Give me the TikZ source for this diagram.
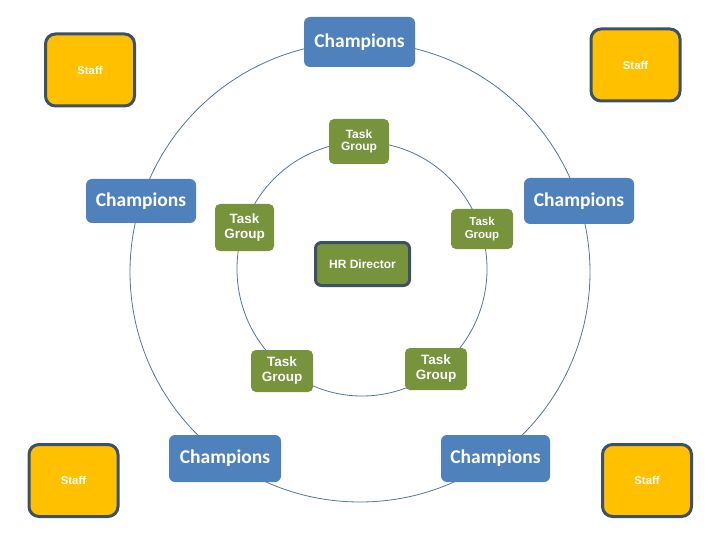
\documentclass[tikz,border=0pt]{standalone}
\usepackage{fontspec}
\setmainfont{Liberation Sans}
\newfontfamily\calfont{Carlito}
\definecolor{champblue}{RGB}{79,129,189}
\definecolor{tggreen}{RGB}{119,147,60}
\definecolor{staffgold}{RGB}{255,192,0}
\definecolor{edgedark}{RGB}{60,80,104}
\definecolor{ringblue}{RGB}{88,118,150}
\begin{document}
\begin{tikzpicture}[x=1pt,y=-1pt,
  box/.style={rounded corners=6pt, text=white, align=center, inner sep=0pt},
  champ/.style={box, fill=champblue, font=\calfont\bfseries\fontsize{19.5}{22}\selectfont},
  tg/.style={box, fill=tggreen, rounded corners=5pt, font=\bfseries\fontsize{13.5}{15}\selectfont},
  staff/.style={box, fill=staffgold, draw=edgedark, line width=3pt, rounded corners=10pt,
    minimum width=89pt, minimum height=72pt, font=\bfseries\fontsize{11.3}{13}\selectfont},
  hrbox/.style={box, fill=tggreen, draw=edgedark, line width=3pt, rounded corners=6pt,
    minimum width=94pt, minimum height=43pt, font=\bfseries\fontsize{12}{14}\selectfont},
  ring/.style={draw=ringblue, line width=0.8pt}]
\fill[white] (0,0) rectangle (720,540);
\useasboundingbox (0,0) rectangle (720,540);
% rings
\coordinate (oc) at (360,272);
\coordinate (ic) at (362,269);
\draw[ring] (oc) circle[radius=230pt];
\draw[ring] (ic) ellipse[x radius=125pt, y radius=127pt];
% staff
\node[staff] (stl) at (90,70) {Staff};
\node[staff] (str) at (635.5,65) {Staff};
\node[staff] (sbl) at (73.5,480.5) {Staff};
\node[staff] (sbr) at (647,480.5) {Staff};
% champions
\node[champ, minimum width=111pt, minimum height=50pt] (ct) at (359.5,42) {Champions};
\node[champ, minimum width=110pt, minimum height=44pt] (cl) at (141,201) {Champions};
\node[champ, minimum width=110pt, minimum height=46pt] (cr) at (579,201) {Champions};
\node[champ, minimum width=112pt, minimum height=47pt] (cbl) at (225,458.5) {Champions};
\node[champ, minimum width=109pt, minimum height=47pt] (cbr) at (495.5,458.5) {Champions};
% task groups
\node[tg, minimum width=60pt, minimum height=45pt, font=\bfseries\fontsize{12}{12.5}\selectfont] (tgt) at (359,141.5) {Task\\Group};
\node[tg, minimum width=59pt, minimum height=47pt] (tgl) at (244.5,227.5) {Task\\Group};
\node[tg, minimum width=62pt, minimum height=40pt, font=\bfseries\fontsize{11.5}{13.5}\selectfont] (tgr) at (482,229) {Task\\Group};
\node[tg, minimum width=62pt, minimum height=42pt] (tgbl) at (282,371) {Task\\Group};
\node[tg, minimum width=62pt, minimum height=42pt] (tgbr) at (436,369) {Task\\Group};
% HR director
\node[hrbox] (hr) at (362.5,264) {HR Director};
\end{tikzpicture}
\end{document}
